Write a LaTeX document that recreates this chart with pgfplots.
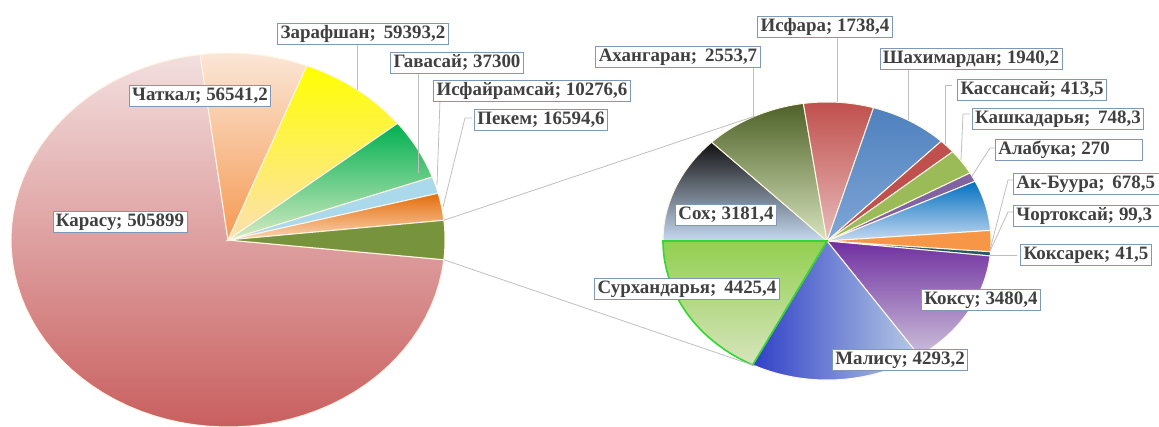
\documentclass[border=0pt]{standalone}
\usepackage{pgfplots}
\pgfplotsset{compat=1.18}
\usepackage{pgfplotstable}
\usepackage{fontspec}
\setmainfont{Liberation Serif}

% ---- left pie (counter-clockwise from the upper edge of the "other" slice)
% Пекем, Исфайрамсай, Гавасай, Зарафшан, Чаткал, Карасу, other
\pgfplotstableread{
value
16594.6
10276.6
37300
59393.2
56541.2
505899
23863.8
}\lefttable
% ---- right pie (clockwise from 180 deg)
% Сох, Ахангаран, Исфара, Шахимардан, Кассансай, Кашкадарья, Алабука,
% Ак-Буура, Чортоксай, Коксарек, Коксу, Малису, Сурхандарья
\pgfplotstableread{
value
3181.4
2553.7
1738.4
1940.2
413.5
748.3
270
1480
620
120
3480.4
4293.2
4425.4
}\righttable

\pgfplotstablegetrowsof{\lefttable}
\pgfmathtruncatemacro\Lmax{\pgfplotsretval-1}
\gdef\Ltot{0}
\foreach \i in {0,...,\Lmax}{%
  \pgfplotstablegetelem{\i}{value}\of\lefttable
  \xdef\Ltot{\fpeval{\Ltot+\pgfplotsretval}}}
\pgfplotstablegetelem{\Lmax}{value}\of\lefttable
\xdef\Lcum{\fpeval{180*\pgfplotsretval/\Ltot}}
\foreach \i in {0,...,\Lmax}{%
  \pgfplotstablegetelem{\i}{value}\of\lefttable
  \expandafter\xdef\csname LA\i\endcsname{\fpeval{round(\Lcum,4)}}%
  \xdef\Lcum{\fpeval{\Lcum+360*\pgfplotsretval/\Ltot}}%
  \expandafter\xdef\csname LB\i\endcsname{\fpeval{round(\Lcum,4)}}}

\pgfplotstablegetrowsof{\righttable}
\pgfmathtruncatemacro\Rmax{\pgfplotsretval-1}
\gdef\Rtot{0}
\foreach \i in {0,...,\Rmax}{%
  \pgfplotstablegetelem{\i}{value}\of\righttable
  \xdef\Rtot{\fpeval{\Rtot+\pgfplotsretval}}}
\xdef\Rcum{180}
\foreach \i in {0,...,\Rmax}{%
  \pgfplotstablegetelem{\i}{value}\of\righttable
  \expandafter\xdef\csname RB\i\endcsname{\fpeval{round(\Rcum,4)}}%
  \xdef\Rcum{\fpeval{\Rcum-360*\pgfplotsretval/\Rtot}}%
  \expandafter\xdef\csname RA\i\endcsname{\fpeval{round(\Rcum,4)}}}

\newcommand\Lwedge[2]{%
  \edef\tmp{\noexpand\addplot[#2, domain=\csname LA#1\endcsname:\csname LB#1\endcsname, samples=70]}%
  \tmp ({228+217*cos(x)},{186+187*sin(x)}) -- (axis cs:228,186) -- cycle;}
\newcommand\Rwedge[2]{%
  \edef\tmp{\noexpand\addplot[#2, domain=\csname RA#1\endcsname:\csname RB#1\endcsname, samples=60]}%
  \tmp ({827+164*cos(x)},{185+139*sin(x)}) -- (axis cs:827,185) -- cycle;}

\definecolor{lblborder}{HTML}{7F98B8}
\definecolor{lbltext}{HTML}{404040}
\definecolor{edge}{HTML}{FFF6E6}
\definecolor{leader}{HTML}{BFBFBF}
% left pie colours
\definecolor{karT}{HTML}{F3DFDF}\definecolor{karB}{HTML}{C95F5F}
\definecolor{chaT}{HTML}{FBE6D6}\definecolor{chaB}{HTML}{F59A52}
\definecolor{zarT}{HTML}{FFFF00}\definecolor{zarB}{HTML}{FCE0B4}
\definecolor{gavT}{HTML}{00B050}\definecolor{gavB}{HTML}{D6EBC4}
\definecolor{isf}{HTML}{A9D9EA}
\definecolor{pskT}{HTML}{E46C0A}\definecolor{pskB}{HTML}{FBD5B5}
\definecolor{oth}{HTML}{77933C}
% right pie colours
\definecolor{soxT}{HTML}{111111}\definecolor{soxB}{HTML}{C6D9F1}
\definecolor{ahaT}{HTML}{4F6228}\definecolor{ahaB}{HTML}{D7E4BD}
\definecolor{isrT}{HTML}{C0504D}\definecolor{isrB}{HTML}{E8BCBB}
\definecolor{shaT}{HTML}{4F81BD}\definecolor{shaB}{HTML}{7FA6D8}
\definecolor{kas}{HTML}{C0504D}
\definecolor{kash}{HTML}{9BBB59}
\definecolor{ala}{HTML}{8064A2}
\definecolor{akbT}{HTML}{0070C0}\definecolor{akbB}{HTML}{C6D9F1}
\definecolor{cho}{HTML}{F79646}
\definecolor{ksr}{HTML}{215868}
\definecolor{ksuT}{HTML}{7030A0}\definecolor{ksuB}{HTML}{CCC0DA}
\definecolor{malL}{HTML}{3040C8}\definecolor{malR}{HTML}{B8CCE4}
\definecolor{surT}{HTML}{92D050}\definecolor{surB}{HTML}{D7E4BD}\definecolor{surE}{HTML}{33D633}

\tikzset{
  lbl/.style={draw=lblborder, line width=0.8bp, fill=white, text=lbltext,
    font=\fontsize{19}{21}\selectfont\bfseries, inner xsep=3bp, inner ysep=2bp,
    text height=13.5bp, text depth=4bp},
  wedge/.style={draw=edge, line width=1bp},
  ld/.style={leader, line width=0.8bp},
}

\begin{document}
\begin{tikzpicture}
\begin{axis}[
  width=1159bp, height=426bp, scale only axis,
  xmin=0, xmax=1159, ymin=0, ymax=426,
  hide axis, clip mode=individual,
  trig format plots=deg,
]
% ---------- left pie
\Lwedge{5}{wedge, top color=karT, bottom color=karB}
\Lwedge{4}{wedge, top color=chaT, bottom color=chaB}
\Lwedge{3}{wedge, top color=zarT, bottom color=zarB}
\Lwedge{2}{wedge, top color=gavT, bottom color=gavB}
\Lwedge{1}{wedge, fill=isf}
\Lwedge{0}{wedge, top color=pskT, bottom color=pskB}
\Lwedge{6}{wedge, fill=oth}
% ---------- right pie
\Rwedge{0}{wedge, top color=soxT, bottom color=soxB}
\Rwedge{1}{wedge, top color=ahaT, bottom color=ahaB}
\Rwedge{2}{wedge, top color=isrT, bottom color=isrB}
\Rwedge{3}{wedge, top color=shaT, bottom color=shaB}
\Rwedge{4}{wedge, fill=kas}
\Rwedge{5}{wedge, fill=kash}
\Rwedge{6}{wedge, fill=ala}
\Rwedge{7}{wedge, top color=akbT, bottom color=akbB}
\Rwedge{8}{wedge, fill=cho}
\Rwedge{9}{wedge, fill=ksr}
\Rwedge{10}{wedge, top color=ksuT, bottom color=ksuB}
\Rwedge{11}{wedge, left color=malL, right color=malR}
\Rwedge{12}{draw=surE, line width=1.6bp, top color=surT, bottom color=surB}

% ---------- connector lines
\addplot[ld] coordinates {(443.8,205.7) (755.1,309.9)};
\addplot[ld] coordinates {(443.8,166.3) (755.1,60.1)};

% ---------- leader lines
\addplot[ld] coordinates {(357,383) (357,336)};
\addplot[ld] coordinates {(418,354) (418,253)};
\addplot[ld] coordinates {(440,326) (437,241)};
\addplot[ld] coordinates {(472,308) (465,308) (443,219)};
\addplot[ld] coordinates {(753,358) (753,309)};
\addplot[ld] coordinates {(837,389) (837,324)};
\addplot[ld] coordinates {(908,356) (908,306)};
\addplot[ld] coordinates {(952,341) (945,341) (945,282)};
\addplot[ld] coordinates {(970,312) (963,312) (961,266)};
\addplot[ld] coordinates {(995,278) (990,278) (972,250)};
\addplot[ld] coordinates {(1013,246) (1008,246) (990,176)};
\addplot[ld] coordinates {(1013,214) (1008,214) (990,175)};
\addplot[ld] coordinates {(1017,171) (990,171)};

% ---------- labels
\node[lbl] at (axis cs:120,204) {Карасу; 505899};
\node[lbl] at (axis cs:200,330) {Чаткал; 56541,2};
\node[lbl] at (axis cs:363,392) {Зарафшан;\, 59393,2};
\node[lbl] at (axis cs:457,363) {Гавасай; 37300};
\node[lbl] at (axis cs:532,335) {Исфайрамсай; 10276,6};
\node[lbl] at (axis cs:541,306) {Пекем; 16594,6};
\node[lbl] at (axis cs:678,369) {Ахангаран;\, 2553,7};
\node[lbl] at (axis cs:825,399) {Исфара; 1738,4};
\node[lbl] at (axis cs:971,367) {Шахимардан; 1940,2};
\node[lbl] at (axis cs:1032,336) {Кассансай; 413,5};
\node[lbl] at (axis cs:1058,307) {Кашкадарья;\, 748,3};
\node[lbl, anchor=west] at (axis cs:995,276) {Алабука; 270\hspace*{30bp}};
\node[lbl, anchor=west] at (axis cs:1013,242) {Ак-Буура;\, 678,5\hspace*{4bp}};
\node[lbl, anchor=west] at (axis cs:1013,210) {Чортоксай; 99,3\hspace*{4bp}};
\node[lbl] at (axis cs:1086,171) {Коксарек; 41,5};
\node[lbl] at (axis cs:981,126) {Коксу; 3480,4};
\node[lbl] at (axis cs:900,66) {Малису; 4293,2};
\node[lbl] at (axis cs:687,137) {Сурхандарья;\, 4425,4};
\node[lbl] at (axis cs:726,211) {Сох; 3181,4};
\end{axis}
\pgfresetboundingbox
\path[use as bounding box] (current axis.south west) rectangle (current axis.north east);
\end{tikzpicture}
\end{document}
